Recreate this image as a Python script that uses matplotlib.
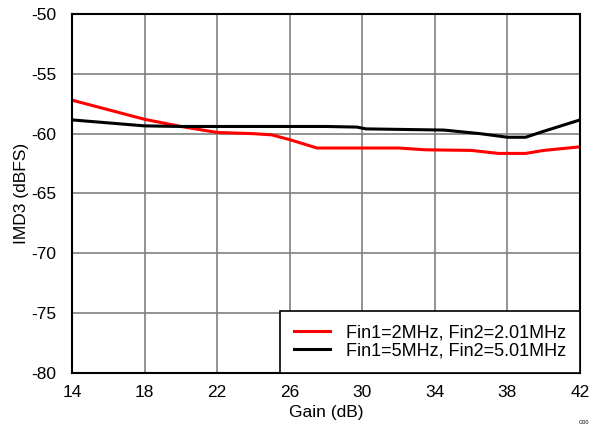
import numpy as np
import matplotlib
matplotlib.use('Agg')
import matplotlib.pyplot as plt

plt.rcParams['font.family'] = ['Liberation Sans', 'DejaVu Sans']
plt.rcParams['axes.unicode_minus'] = False

# values
gain_red = [14, 16, 18, 20, 22, 24, 25, 26, 27.5, 30, 32, 33.5, 36, 37.5, 39, 40, 42]
imd3_red = [-57.2, -58.0, -58.8, -59.4, -59.9, -60.0, -60.1, -60.5, -61.2, -61.2,
            -61.2, -61.35, -61.4, -61.65, -61.65, -61.4, -61.1]

gain_blk = [14, 16, 18, 20, 24, 28, 29.7, 30.2, 34.5, 36.5, 38, 39, 40, 42]
imd3_blk = [-58.85, -59.1, -59.35, -59.4, -59.4, -59.4, -59.45, -59.6, -59.7,
            -60.0, -60.3, -60.3, -59.8, -58.85]

label_red = 'Fin1=2MHz, Fin2=2.01MHz'
label_blk = 'Fin1=5MHz, Fin2=5.01MHz'

fig = plt.figure(figsize=(5.98, 4.32), dpi=100)
ax = fig.add_axes([0.1204, 0.1366, 0.8496, 0.831])

ax.plot(gain_red, imd3_red, color='red', lw=2.2, label=label_red)
ax.plot(gain_blk, imd3_blk, color='black', lw=2.2, label=label_blk)

ax.set_xlim(14, 42)
ax.set_ylim(-80, -50)
ax.set_xticks(np.arange(14, 43, 4))
ax.set_yticks(np.arange(-80, -49, 5))
ax.grid(True, color='#808080', lw=1.2)
ax.set_axisbelow(True)
ax.tick_params(length=0, labelsize=12.5)
ax.tick_params(axis='x', pad=9)
ax.tick_params(axis='y', pad=11)
for s in ax.spines.values():
    s.set_color('black')
    s.set_linewidth(1.5)

ax.set_xlabel('Gain (dB)', fontsize=12.5, labelpad=3)
ax.set_ylabel('IMD3 (dBFS)', fontsize=12.5, labelpad=2)

leg = ax.legend(loc='lower right', borderaxespad=0, fancybox=False,
                fontsize=13, handlelength=2.0, labelspacing=0.05,
                borderpad=0.75, handletextpad=0.9)
leg.get_frame().set_edgecolor('black')
leg.get_frame().set_linewidth(1.2)
leg.get_frame().set_alpha(1)

fig.text(0.985, 0.022, 'G00', fontsize=4, ha='right', va='center')

fig.savefig('out.png', dpi=100)
